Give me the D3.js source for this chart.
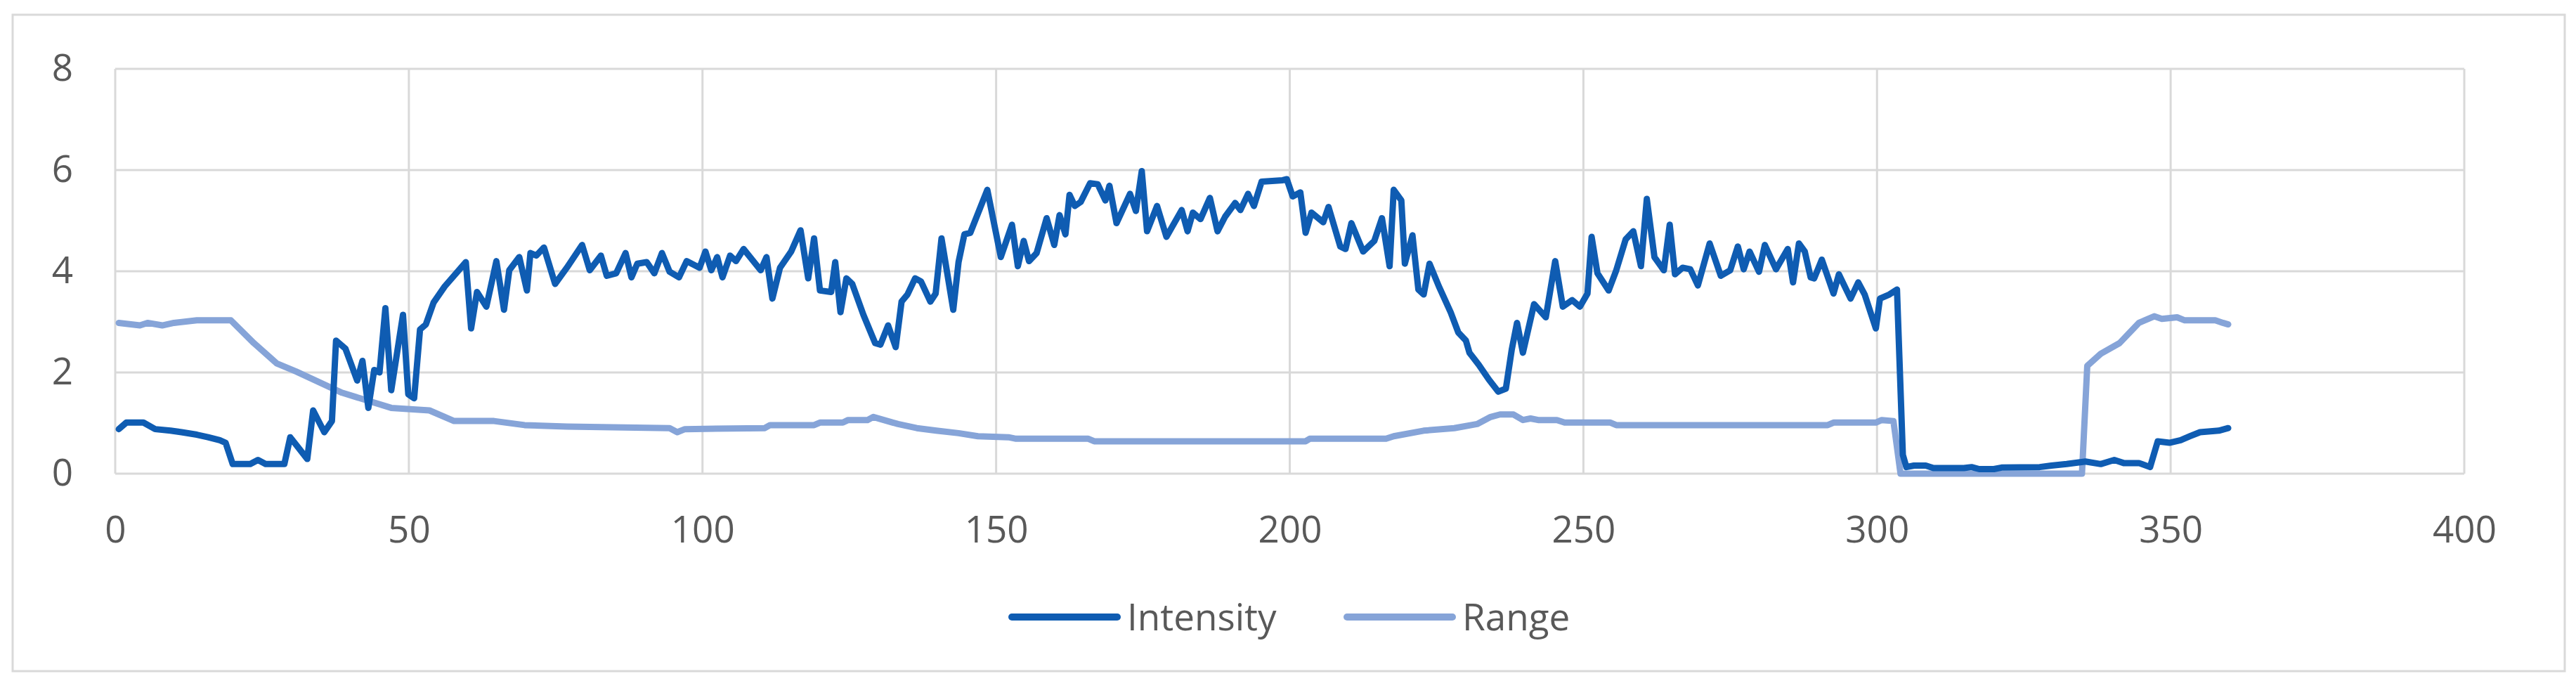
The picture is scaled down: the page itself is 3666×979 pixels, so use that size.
<!DOCTYPE html>
<html><head><meta charset="utf-8">
<script src="https://cdn.jsdelivr.net/npm/d3@7"></script>
<style>body{margin:0;background:#fff}svg{display:block}</style>
</head><body>
<svg id="c" width="3666" height="979"></svg>
<script>
const intensityX=[0.6,1.9,4.8,6.8,9.4,11.3,13.9,15.8,17.8,18.8,20,23,24.3,25.6,28.8,29.8,32.7,33.7,35.6,36.9,37.6,39.2,41.2,42.1,43.1,44.1,45,46,47,49,49.9,50.9,51.9,52.9,54.2,56.1,59.7,60.6,61.6,63.2,64.9,66.2,67.1,68.8,70.1,70.7,71.7,73,74.9,76.9,79.5,80.8,82.7,83.7,85.3,86.9,87.9,88.9,90.5,91.8,93.1,94.4,96,97.3,99.5,100.5,101.5,102.5,103.4,104.7,105.7,107,109.9,110.9,111.9,113.2,115.1,116.7,118,119,120,121.9,122.6,123.5,124.5,125.5,127.4,129.4,130.3,131.6,132.9,133.9,134.9,136.2,137.2,138.8,139.7,140.7,142.7,143.6,144.6,145.6,148.5,150.8,152.7,153.7,154.7,155.6,156.9,158.6,159.9,160.8,161.8,162.5,163.4,164.4,166,167.3,168.6,169.3,170.5,172.8,173.8,174.8,175.7,177.4,179,181.6,182.6,183.5,184.8,186.4,187.7,189,190.7,191.6,192.9,193.9,195.2,198.8,199.5,200.5,201.8,202.7,203.7,205.7,206.6,208.6,209.5,210.5,212.5,214.4,215.7,217,217.7,219,219.6,220.9,221.9,222.8,223.8,225.4,227.4,228.7,230,230.6,232.2,233.9,235.5,236.8,237.8,238.7,239.7,241.6,243.6,245.2,246.5,248.1,249.4,250.7,251.4,252.4,254.3,255.6,257.2,258.5,259.8,260.8,262.1,263.7,264.7,265.6,266.9,268.2,269.5,271.5,273.4,275,276.3,277.3,278.3,279.9,280.9,282.8,284.8,285.7,286.7,287.7,288.7,289.3,290.6,292.6,293.5,295.5,296.8,297.9,299.8,300.5,302.1,303.4,304.4,305,306.3,308.3,309.6,314.8,316.1,317.4,319.9,321.2,327.7,329.7,332.3,335.5,338.1,340.4,342,344.6,346.5,347.8,349.8,351.7,353.3,355,358.2,359.8];
const intensityY=[0.88,1.01,1.01,0.88,0.85,0.82,0.77,0.72,0.66,0.61,0.19,0.19,0.27,0.19,0.19,0.72,0.29,1.25,0.82,1.04,2.63,2.47,1.84,2.23,1.30,2.05,2.0,3.27,1.65,3.14,1.57,1.49,2.85,2.95,3.38,3.70,4.18,2.87,3.59,3.30,4.20,3.24,4.02,4.28,3.62,4.36,4.31,4.47,3.75,4.07,4.52,4.02,4.31,3.91,3.96,4.36,3.88,4.15,4.18,3.96,4.36,3.99,3.88,4.20,4.07,4.39,4.02,4.28,3.88,4.31,4.20,4.44,4.02,4.28,3.46,4.07,4.39,4.81,3.86,4.65,3.62,3.59,4.18,3.19,3.86,3.75,3.14,2.58,2.55,2.93,2.50,3.40,3.54,3.86,3.80,3.40,3.56,4.65,3.24,4.18,4.73,4.76,5.61,4.28,4.92,4.10,4.60,4.20,4.36,5.05,4.52,5.11,4.73,5.51,5.29,5.37,5.74,5.72,5.40,5.69,4.95,5.53,5.19,5.98,4.79,5.29,4.68,5.21,4.79,5.16,5.03,5.45,4.79,5.08,5.35,5.21,5.53,5.29,5.77,5.80,5.82,5.48,5.56,4.76,5.16,4.97,5.27,4.49,4.44,4.95,4.39,4.60,5.05,4.10,5.61,5.40,4.15,4.71,3.64,3.54,4.15,3.70,3.19,2.79,2.63,2.39,2.15,1.86,1.62,1.68,2.45,2.98,2.39,3.35,3.09,4.20,3.30,3.43,3.30,3.56,4.68,3.96,3.62,4.02,4.63,4.79,4.10,5.43,4.28,4.02,4.92,3.94,4.07,4.04,3.72,4.55,3.91,4.02,4.49,4.04,4.39,3.99,4.52,4.04,4.44,3.78,4.55,4.39,3.88,3.86,4.23,3.56,3.94,3.46,3.78,3.54,2.87,3.46,3.54,3.64,0.37,0.13,0.16,0.16,0.11,0.11,0.13,0.09,0.09,0.12,0.13,0.16,0.19,0.24,0.19,0.27,0.21,0.21,0.13,0.64,0.61,0.66,0.74,0.82,0.85,0.90];
const rangeX=[0.6,4.2,5.5,8,10,13.9,19.7,23.6,27.5,30.8,38.6,47,53.5,57.7,64.5,69.7,76.9,94.4,95.7,97,110.6,111.5,119,120,123.9,124.8,128.1,129.1,133.3,136.5,139.8,143.6,146.9,152.1,153.4,165.7,166.7,202.7,203.4,216.4,217.7,222.8,228,231.9,234.2,235.8,238.1,239.7,241,242.3,245.5,246.8,254.6,255.6,291.6,292.6,299.8,300.8,302.8,304,334.9,335.8,338.1,341.3,344.6,347.2,348.5,351.1,352.4,357.6,358.9,359.8];
const rangeY=[2.98,2.93,2.98,2.93,2.98,3.03,3.03,2.58,2.18,2.02,1.60,1.30,1.25,1.04,1.04,0.96,0.93,0.90,0.82,0.88,0.90,0.96,0.96,1.01,1.01,1.06,1.06,1.12,0.98,0.90,0.85,0.80,0.74,0.72,0.69,0.69,0.64,0.64,0.69,0.69,0.74,0.85,0.90,0.98,1.12,1.17,1.17,1.06,1.09,1.06,1.06,1.01,1.01,0.96,0.96,1.01,1.01,1.06,1.04,0,0,2.13,2.37,2.58,2.98,3.11,3.06,3.09,3.03,3.03,2.98,2.95];
const xTicks=[0,50,100,150,200,250,300,350,400];
const yTicks=[0,2,4,6,8];
const seriesNames=["Intensity","Range"];
const colors=["#0F5CB2","#86A4D8"];

const svg=d3.select("#c");
const font="'Open Sans', 'Noto Sans', sans-serif";
svg.append("rect").attr("x",18).attr("y",21).attr("width",3632).attr("height",934)
  .attr("fill","#fff").attr("stroke","#d9d9d9").attr("stroke-width",3);
const x=d3.scaleLinear().domain([0,400]).range([164,3507]);
const y=d3.scaleLinear().domain([0,8]).range([674,98]);
const g=svg.append("g");
g.selectAll(".vg").data(xTicks).join("line").attr("x1",d=>x(d)).attr("x2",d=>x(d))
  .attr("y1",y(8)).attr("y2",y(0)).attr("stroke","#d9d9d9").attr("stroke-width",3);
g.selectAll(".hg").data(yTicks).join("line").attr("y1",d=>y(d)).attr("y2",d=>y(d))
  .attr("x1",x(0)).attr("x2",x(400)).attr("stroke","#d9d9d9").attr("stroke-width",3);
const xa=svg.append("g").attr("transform","translate(0,674)").call(d3.axisBottom(x).tickValues(xTicks).tickSize(0).tickPadding(60));
const ya=svg.append("g").attr("transform","translate(164,0)").call(d3.axisLeft(y).tickValues(yTicks).tickSize(0).tickPadding(60));
[xa,ya].forEach(a=>{a.select(".domain").remove();a.selectAll("text").attr("font-family",font).attr("font-size",53).attr("fill","#595959");});
const line=d3.line().x(d=>x(d[0])).y(d=>y(d[1]));
const rData=rangeX.map((v,i)=>[v,rangeY[i]]);
const iData=intensityX.map((v,i)=>[v,intensityY[i]]);
svg.append("path").datum(rData).attr("d",line).attr("fill","none").attr("stroke",colors[1]).attr("stroke-width",9).attr("stroke-linejoin","round").attr("stroke-linecap","round");
svg.append("path").datum(iData).attr("d",line).attr("fill","none").attr("stroke",colors[0]).attr("stroke-width",9).attr("stroke-linejoin","round").attr("stroke-linecap","round");
const leg=[{x1:1440,x2:1590,tx:1604},{x1:1917,x2:2067,tx:2081}];
leg.forEach((l,i)=>{
  svg.append("line").attr("x1",l.x1).attr("x2",l.x2).attr("y1",878).attr("y2",878).attr("stroke",colors[i]).attr("stroke-width",10).attr("stroke-linecap","round");
  svg.append("text").attr("x",l.tx).attr("y",878).attr("dy","0.35em").attr("font-family",font).attr("font-size",53).attr("fill","#595959").text(seriesNames[i]);
});
</script>
</body></html>
